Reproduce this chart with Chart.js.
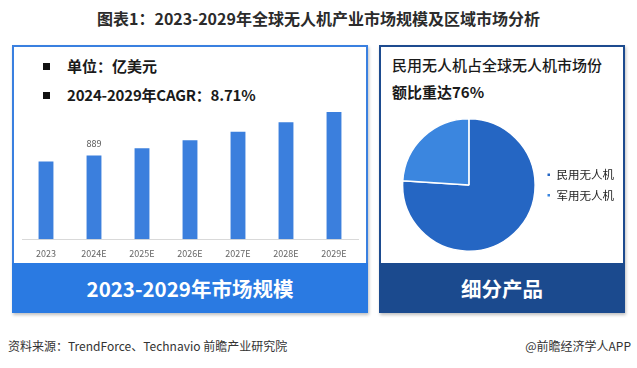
<!DOCTYPE html>
<html><head><meta charset="utf-8">
<script src="https://cdn.jsdelivr.net/npm/chart.js@4.4.0/dist/chart.umd.min.js"></script>
<style>
html,body{margin:0;padding:0;background:#fff;width:637px;height:368px;overflow:hidden;font-family:"Noto Sans CJK SC","Noto Sans",sans-serif;}
.abs{position:absolute;}
#title{left:0;top:6px;width:637px;text-align:center;font-size:16px;font-weight:bold;color:#2b2b2b;white-space:nowrap;}
#lp{left:12px;top:45px;width:352px;height:264px;border:2px solid #3a80e0;box-shadow:1px 2px 3px rgba(0,0,0,0.25);}
#lband{left:12px;top:263px;width:356px;height:50px;background:#2a7ae2;color:#fff;font-weight:bold;font-size:20.5px;text-align:center;line-height:50px;}
#rp{left:379px;top:45px;width:242px;height:264px;border:2px solid #1d4b8f;box-shadow:1px 2px 3px rgba(0,0,0,0.25);}
#rband{left:379px;top:263px;width:246px;height:50px;background:#1b4a8e;color:#fff;font-weight:bold;font-size:20.5px;text-align:center;line-height:50px;}
.sq{display:inline-block;width:7px;height:7px;background:#111;}
.lt{font-size:15px;font-weight:bold;color:#1a1a1a;white-space:nowrap;line-height:20px;}
.rt{font-size:15px;color:#1a1a1a;white-space:nowrap;line-height:20px;}
#src{left:8px;top:337px;font-size:12px;color:#333;white-space:nowrap;}
#app{right:6px;top:337px;font-size:12px;color:#333;white-space:nowrap;}
</style></head>
<body>
<script>
// ---- data ----
const barYears = ["2023","2024E","2025E","2026E","2027E","2028E","2029E"];
const marketSize = [826, 889, 966, 1050, 1141, 1243, 1352];
const labelledYear = "2024E";
const pieLabels = ["民用无人机","军用无人机"];
const pieShares = [76, 24];
const titleText = "图表1：2023-2029年全球无人机产业市场规模及区域市场分析";
const unitText = "单位：亿美元";
const cagrText = "2024-2029年CAGR：8.71%";
</script>
<div id="title" class="abs"></div>
<div id="lp" class="abs"></div>
<div id="rp" class="abs"></div>
<div class="abs lt" style="left:43px;top:56px;"><span class="sq" style="vertical-align:2px"></span><span id="unit" style="margin-left:17px"></span></div>
<div class="abs lt" style="left:43px;top:85px;letter-spacing:-0.2px"><span class="sq" style="vertical-align:2px"></span><span id="cagr" style="margin-left:17px"></span></div>
<div class="abs rt" style="left:392px;top:55px;font-weight:500">民用无人机占全球无人机市场份</div>
<div class="abs rt" style="left:392px;top:82px;font-weight:bold">额比重达76%</div>
<div class="abs" style="left:14px;top:98px;width:352px;height:178px;"><canvas id="bar"></canvas></div>
<div class="abs" style="left:400px;top:118px;width:224px;height:134px;"><canvas id="pie"></canvas></div>
<div id="lband" class="abs">2023-2029年市场规模</div>
<div id="rband" class="abs">细分产品</div>
<div id="src" class="abs">资料来源：TrendForce、Technavio 前瞻产业研究院</div>
<div id="app" class="abs">@前瞻经济学人APP</div>
<script>
document.getElementById('title').textContent = titleText;
document.getElementById('unit').textContent = unitText;
document.getElementById('cagr').textContent = cagrText;
const cjk = '"Noto Sans CJK SC", "Noto Sans", sans-serif';
const valueLabel = {
  id:'valueLabel',
  afterDatasetsDraw(chart){
    const ctx = chart.ctx;
    const meta = chart.getDatasetMeta(0);
    const i = barYears.indexOf(labelledYear);
    const el = meta.data[i];
    ctx.save();
    ctx.font = '9px ' + cjk;
    ctx.fillStyle = '#555';
    ctx.textAlign = 'center';
    ctx.textBaseline = 'middle';
    ctx.fillText(String(marketSize[i]), el.x, el.y - 12);
    ctx.restore();
  }
};
new Chart(document.getElementById('bar'), {
  type:'bar',
  data:{labels:barYears, datasets:[{data:marketSize, backgroundColor:'#3b7fdd', barPercentage:0.62, categoryPercentage:0.5}]},
  options:{
    responsive:true, maintainAspectRatio:false, animation:false,
    layout:{padding:{left:8, right:8, top:0, bottom:8}},
    plugins:{legend:{display:false}, tooltip:{enabled:false}},
    scales:{
      x:{grid:{display:false, drawTicks:false}, border:{display:true, color:'#d9d9d9'},
         ticks:{color:'#666', font:{size:9, family:cjk}, padding:9}},
      y:{display:false, min:0, max:1500}
    }
  },
  plugins:[valueLabel]
});
new Chart(document.getElementById('pie'), {
  type:'pie',
  data:{labels:pieLabels, datasets:[{data:pieShares, backgroundColor:['#2566c3','#3b86df'], borderColor:'#fff', borderWidth:1.5}]},
  options:{
    responsive:true, maintainAspectRatio:false, animation:false,
    layout:{padding:0},
    plugins:{tooltip:{enabled:false},
      legend:{position:'right', labels:{boxWidth:4, boxHeight:4, padding:9, color:'#222', font:{size:11.5, family:cjk}}}}
  }
});
</script>
</body></html>
